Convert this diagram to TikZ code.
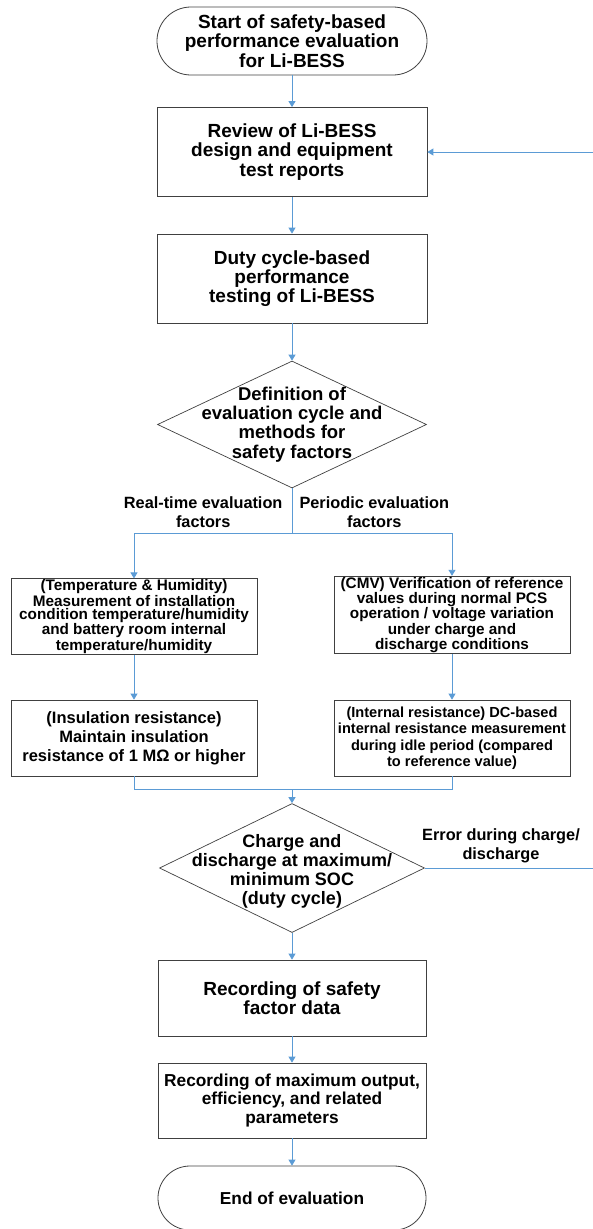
\documentclass[tikz,border=0pt]{standalone}
\usepackage{fontspec}
\setmainfont{Liberation Sans}
\usepackage{tikz}
\usetikzlibrary{shapes.geometric,arrows.meta}
\definecolor{lineblue}{HTML}{5B9BD5}
\definecolor{boxgray}{HTML}{404040}

\begin{document}
\begin{tikzpicture}[x=1pt,y=-1pt,
proc/.style={draw=boxgray,line width=0.8pt,rectangle,align=center,inner sep=1pt,
  font=\bfseries\fontsize{19pt}{19.3pt}\selectfont},
deci/.style={draw=boxgray,line width=0.7pt,diamond,inner sep=0pt},
flow/.style={draw=lineblue,line width=0.9pt,-{Triangle[length=6pt,width=7pt]}},
link/.style={draw=lineblue,line width=0.9pt},
lbl/.style={align=center,font=\bfseries\fontsize{16.3pt}{18.5pt}\selectfont}]
\useasboundingbox (0,0) rectangle (593,1229);
\node[proc,rounded corners=33.9pt,minimum width=270pt,minimum height=68pt] (start) at (292,41)
  {Start of safety-based\\performance evaluation\\for Li-BESS};
\node[proc,minimum width=270pt,minimum height=89pt] (review) at (292,152)
  {Review of Li-BESS\\design and equipment\\test reports};
\node[proc,minimum width=270pt,minimum height=89pt] (duty) at (292,278.5)
  {Duty cycle-based\\performance\\testing of Li-BESS};
\node[deci,minimum width=269pt,minimum height=127pt] (eval) at (292,424.5) {};
\node[align=center,font=\bfseries\fontsize{18.5pt}{19.3pt}\selectfont] (evaltext) at (eval)
  {Definition of\\evaluation cycle and\\methods for\\safety factors};
\node[lbl,anchor=east] (realtime) at (286,512) {Real-time evaluation\\factors};
\node[lbl,anchor=west] (periodic) at (296,512) {Periodic evaluation\\factors};
\coordinate (split) at (292,533);
\node[proc,minimum width=246pt,minimum height=75pt,
  font=\bfseries\fontsize{15.3pt}{13.3pt}\selectfont] (temp) at (134,616.5)
  {(Temperature \& Humidity)\\Measurement of installation\\condition temperature/humidity\\and battery room internal\\temperature/humidity};
\node[proc,minimum width=236pt,minimum height=76pt,
  font=\bfseries\fontsize{15.3pt}{13.5pt}\selectfont] (cmv) at (452,615)
  {(CMV) Verification of reference\\values during normal PCS\\operation / voltage variation\\under charge and\\discharge conditions};
\node[proc,minimum width=246pt,minimum height=76pt,
  font=\bfseries\fontsize{16.5pt}{19pt}\selectfont] (insul) at (134,738)
  {(Insulation resistance)\\Maintain insulation\\resistance of 1 MΩ or higher};
\node[proc,minimum width=236pt,minimum height=76pt,
  font=\bfseries\fontsize{14.6pt}{16.5pt}\selectfont] (intres) at (452,738)
  {(Internal resistance) DC-based\\internal resistance measurement\\during idle period (compared\\to reference value)};
\coordinate (merge) at (292,789);
\node[deci,minimum width=265pt,minimum height=129pt] (charge) at (292,868) {};
\node[align=center,font=\bfseries\fontsize{18pt}{19pt}\selectfont] (chargetext) at (292,871)
  {Charge and\\discharge at maximum/\\minimum SOC\\(duty cycle)};
\node[lbl] (error) at (501,846) {Error during charge/\\discharge};
\node[proc,minimum width=268pt,minimum height=76pt] (record) at (292,998)
  {Recording of safety\\factor data};
\node[proc,minimum width=268pt,minimum height=75pt,
  font=\bfseries\fontsize{17.3pt}{18.5pt}\selectfont] (param) at (292,1100.5)
  {Recording of maximum output,\\efficiency, and related\\parameters};
\node[proc,rounded corners=31.9pt,minimum width=268pt,minimum height=64pt,
  font=\bfseries\fontsize{17.3pt}{18.5pt}\selectfont] (finish) at (292,1198)
  {End of evaluation};
\coordinate (back) at (593,152);
\coordinate (fault) at (593,868);
\draw[flow] (start) -- (review);
\draw[flow] (review) -- (duty);
\draw[flow] (duty) -- (eval);
\draw[link] (eval) -- (split);
\draw[flow] (split) -| (temp);
\draw[flow] (split) -| (cmv);
\draw[flow] (temp) -- (insul);
\draw[flow] (cmv) -- (intres);
\draw[link] (insul) |- (merge) -| (intres);
\draw[flow] (merge) -- (charge);
\draw[link] (charge) -- (fault);
\draw[flow] (back) -- (review);
\draw[flow] (charge) -- (record);
\draw[flow] (record) -- (param);
\draw[flow] (param) -- (finish);
\end{tikzpicture}
\end{document}
